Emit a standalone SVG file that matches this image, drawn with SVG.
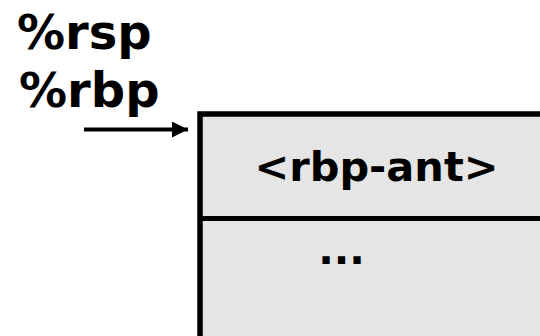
<svg xmlns="http://www.w3.org/2000/svg" width="540" height="336" viewBox="0 0 540 336">
<defs>
<style>
.lbl{font-family:"DejaVu Sans",sans-serif;font-weight:bold;fill:#000}
</style>
<marker id="ah" markerWidth="4" markerHeight="4" refX="4" refY="2" orient="auto" markerUnits="strokeWidth"><path d="M0,0 L4,2 L0,4 Z" fill="#000"/></marker>
</defs>
<rect width="540" height="336" fill="#fff"/>
<g id="reg-rsp"><text class="lbl" x="17" y="49" font-size="48">%rsp</text></g>
<g id="reg-rbp"><text class="lbl" x="19" y="107" font-size="48">%rbp</text></g>
<g id="stack">
<rect x="200" y="114" width="360" height="250" fill="#e5e5e5" stroke="#000" stroke-width="5.5"/>
<line x1="200" y1="218.5" x2="560" y2="218.5" stroke="#000" stroke-width="5"/>
<text class="lbl" x="376.5" y="181" font-size="41.5" text-anchor="middle">&lt;rbp-ant&gt;</text>
<text class="lbl" x="341.5" y="264" font-size="41" text-anchor="middle">...</text>
</g>
<g id="connectors">
<line x1="84" y1="129.5" x2="188" y2="129.5" stroke="#000" stroke-width="4" marker-end="url(#ah)"/>
</g>
</svg>
